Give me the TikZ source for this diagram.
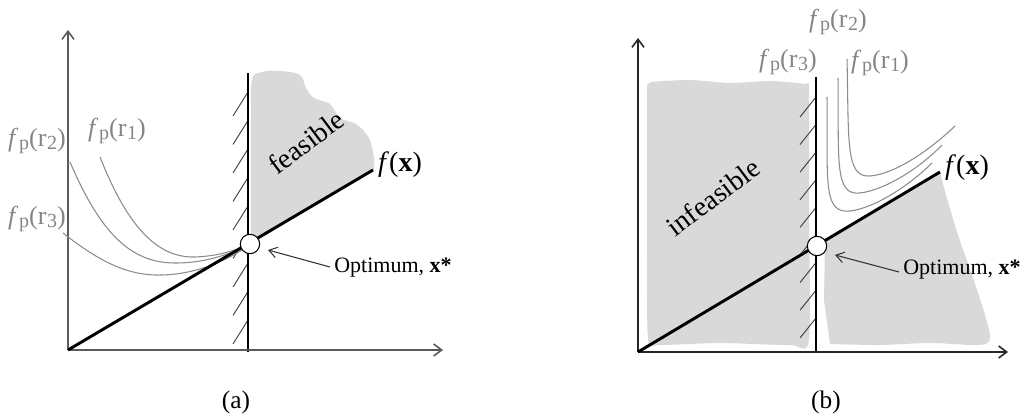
\documentclass[tikz,border=0pt]{standalone}
\usepackage{fontspec}
\setmainfont{Liberation Serif}
\usetikzlibrary{arrows.meta}
\definecolor{regiongray}{HTML}{D9D9D9}
\definecolor{curvegray}{HTML}{8C8C8C}
\definecolor{labelgray}{HTML}{858585}
\definecolor{axisgray}{HTML}{5A5A5A}
\newcommand{\fpr}[1]{\textit{f}\kern0.5pt\raisebox{-0.28ex}{\fontsize{15}{15}\selectfont p}(r\kern0.5pt\raisebox{-0.28ex}{\fontsize{15}{15}\selectfont #1})}
\tikzset{
  axis/.style={line width=1.2pt, -{Straight Barb[length=6pt,width=9pt]}},
  wall/.style={line width=0.8pt, black},
  hatch/.style={line width=0.7pt, draw=black!75},
  objline/.style={line width=2.2pt, black},
  pcurve/.style={line width=0.8pt, draw=curvegray},
  plabel/.style={text=labelgray, font=\fontsize{19.5}{21}\selectfont, inner sep=0pt},
  flabel/.style={font=\fontsize{21}{23}\selectfont, inner sep=0pt},
  optlabel/.style={font=\fontsize{16.5}{19}\selectfont, inner sep=0pt, anchor=west},
  optdot/.style={circle, draw=black, fill=white, line width=0.8pt, minimum size=14.5pt, inner sep=0pt},
  regionlabel/.style={font=\fontsize{21}{23}\selectfont, rotate=37, inner sep=0pt},
  pointer/.style={line width=0.8pt, draw=black!80, -{Straight Barb[length=6pt,width=8pt]}},
  caption/.style={font=\fontsize{19}{21}\selectfont, inner sep=0pt},
}
\begin{document}
\begin{tikzpicture}[x=0.75pt, y=-0.75pt]
\useasboundingbox (0,0) rectangle (1024,417);
% ================= panel (a) =================
\coordinate (aO) at (68,350);
\coordinate (aYtop) at (68,30);
\coordinate (aXend) at (443,350);
\coordinate (aWtop) at (248,73);
\coordinate (aWbot) at (248,352);
\coordinate (aFend) at (373,170);
% feasible region
\fill[regiongray] plot[smooth, tension=0.6] coordinates {(251,244) (251,120) (252,80) (262,72) (280,71) (300,75) (306,88) (314,98) (330,104) (340,118) (356,124) (369,138) (374,158) (374,170)} -- cycle;
\node[regionlabel] (feas) at (306,142) {feasible};
% hatches
\foreach \y in {92,120.5,149,177.5,206,234.5,263,291.5,320}
  \draw[hatch] (233,\y+24) -- (248,\y);
\draw[wall] (aWtop) -- (aWbot);
% axes
\draw[axis, draw=axisgray] (aO) -- (aYtop);
\draw[axis, draw=axisgray] (aO) -- (aXend);
% penalty curves
\draw[pcurve] (100,157) .. controls (128,228) and (158,258) .. (195,257) .. controls (220,256) and (235,250) .. (245,246);
\draw[pcurve] (70,162) .. controls (100,232) and (130,263) .. (175,263) .. controls (210,263) and (232,252) .. (245,247);
\draw[pcurve] (63,233) .. controls (100,262) and (128,276) .. (162,275) .. controls (200,274) and (230,258) .. (245,248);
% objective line
\draw[objline] (aO) -- (aFend);
\node[optdot] (aopt) at (250,244) {};
\node[flabel] (afx) at (400,165) {\textit{f}(\textbf{x})};
\node[plabel] (ar2) at (37,141) {\fpr{2}};
\node[plabel] (ar1) at (117,131) {\fpr{1}};
\node[plabel] (ar3) at (37,219) {\fpr{3}};
\node[optlabel] (aoptl) at (334,268) {Optimum, \textbf{x*}};
\draw[pointer] (aoptl.west) ++(-4,-1) coordinate (aptail) -- (268,250) coordinate (aphead);
\node[caption] (capa) at (236,402) {(a)};
% ================= panel (b) =================
\coordinate (bO) at (638,352);
\coordinate (bYtop) at (638,38);
\coordinate (bXend) at (1008,352);
\coordinate (bWtop) at (816,77);
\coordinate (bWbot) at (816,353);
\coordinate (bFend) at (940,172);
% infeasible region (left)
\fill[regiongray] plot[smooth, tension=0.4] coordinates {(647,86) (652,82) (690,80) (730,83) (770,81) (805,84) (809,90) (809,200) (809,340) (790,345) (720,343) (660,345) (648,340) (647,250)} -- cycle;
% lower-right region
\fill[regiongray] (825,242) -- (bFend) -- plot[smooth, tension=0.5] coordinates {(940,172) (946,195) (958,235) (972,275) (985,315) (990,338) (980,345) (930,343) (880,345) (830,344)} -- (824,300) -- cycle;
\node[regionlabel] (infeas) at (713,197) {infeasible};
% hatches
\foreach \y in {97,124.6,152.2,179.8,207.4,235,262.6,290.2,318}
  \draw[hatch] (800,\y+20) -- (816,\y);
\draw[wall] (bWtop) -- (bWbot);
% axes
\draw[axis, draw=black!85] (bO) -- (bYtop);
\draw[axis, draw=black!85] (bO) -- (bXend);
% penalty curves
\draw[pcurve] (847,59) .. controls (849,140) and (845,178) .. (870,176) .. controls (895,174) and (930,150) .. (955,126);
\draw[pcurve] (838,78) .. controls (839,160) and (834,196) .. (860,193) .. controls (885,190) and (920,168) .. (942,145);
\draw[pcurve] (827,97) .. controls (828,180) and (822,214) .. (850,211) .. controls (875,208) and (910,185) .. (932,163);
% objective line
\draw[objline] (bO) -- (bFend);
\node[optdot] (bopt) at (817,246) {};
\node[flabel] (bfx) at (967,168) {\textit{f}(\textbf{x})};
\node[plabel] (br2) at (838,22) {\fpr{2}};
\node[plabel] (br3) at (788,62) {\fpr{3}};
\node[plabel] (br1) at (880,63) {\fpr{1}};
\node[optlabel] (boptl) at (903,270) {Optimum, \textbf{x*}};
\draw[pointer] (boptl.west) ++(-4,2) coordinate (bptail) -- (835,255) coordinate (bphead);
\node[caption] (capb) at (826,402) {(b)};
\end{tikzpicture}
\end{document}
